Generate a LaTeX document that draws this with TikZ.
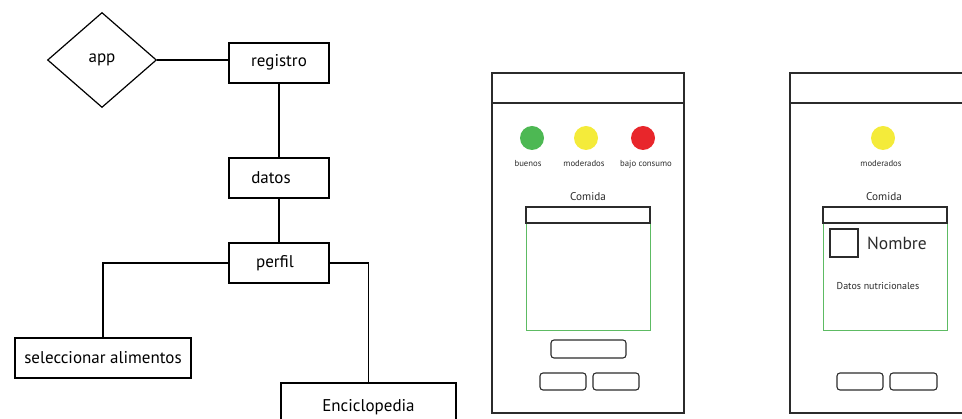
\documentclass[tikz,border=0pt]{standalone}
\usepackage{fontspec}
\setmainfont{PT Sans}
\usetikzlibrary{shapes.geometric}
\definecolor{gok}{HTML}{4DB853}
\definecolor{ymod}{HTML}{F4EB3A}
\definecolor{rbad}{HTML}{E8262B}
\definecolor{gline}{HTML}{5DBB63}
\definecolor{ink}{HTML}{2B2B2B}
\begin{document}
\begin{tikzpicture}[x=1pt,y=-1pt,
  box/.style={draw=black,line width=1.6pt,rectangle,inner sep=0pt,font=\fontsize{17}{19}\selectfont},
  conn/.style={draw=black,line width=1.8pt},
  phone/.style={draw=ink,line width=1.1pt},
  bar/.style={draw=ink,line width=1.4pt},
  btn/.style={draw=ink,line width=1.1pt,rounded corners=3pt},
  small/.style={font=\fontsize{8.7}{9.5}\selectfont,text=ink,inner sep=0pt},
  mid/.style={font=\fontsize{11.2}{12}\selectfont,text=ink,inner sep=0pt}]
\useasboundingbox (0,0) rectangle (962,419);
\clip (0,0) rectangle (962,419);
% ---------- left diagram ----------
\node[draw=black,line width=1.2pt,diamond,minimum width=109pt,minimum height=95pt,inner sep=0pt,font=\fontsize{17}{19}\selectfont] (app) at (102,60) {\raisebox{1pt}{app}};
\node[box,minimum width=100pt,minimum height=40pt] (registro) at (279,63) {\raisebox{5pt}{registro}};
\node[box,minimum width=100pt,minimum height=40pt] (datos) at (279,178) {\hspace*{-16pt}datos};
\node[box,minimum width=100pt,minimum height=40pt] (perfil) at (279,263) {\hspace*{-8pt}perfil};
\node[box,minimum width=176pt,minimum height=40pt] (sel) at (103,358) {seleccionar alimentos};
\node[box,minimum width=175pt,minimum height=48pt] (enc) at (368.5,407) {\raisebox{4pt}{Enciclopedia}};
\draw[conn] (app.east) -- (app.east -| registro.west);
\draw[conn] (registro.south) -- (datos.north);
\draw[conn] (datos.south) -- (perfil.north);
\draw[conn,line width=1.5pt] (perfil.west) -| (sel.north);
\draw[conn,line width=1.5pt] (perfil.east) -| (enc.north);
% ---------- phone 1 ----------
\draw[phone] (492,73) rectangle (684,413);
\draw[phone] (492,103) -- (684,103);
\fill[gok] (532,138) circle (12);
\fill[ymod] (586,138) circle (12);
\fill[rbad] (643,138) circle (12);
\node[small] (l1) at (528,164) {buenos};
\node[small] (l2) at (584,164) {moderados};
\node[small] (l3) at (646,164) {bajo consumo};
\node[mid] (c1) at (588,197) {Comida};
\draw[gline,line width=1pt] (526,223) rectangle (650,331);
\draw[bar] (526,207) rectangle (650,223);
\draw[btn] (551,340) rectangle (626,358);
\draw[btn] (540,373) rectangle (586,390);
\draw[btn] (593,373) rectangle (639,390);
% ---------- phone 2 ----------
\draw[phone] (790,73) rectangle (982,413);
\draw[phone] (790,103) -- (982,103);
\fill[ymod] (883,138) circle (12);
\node[small] (l4) at (881,164) {moderados};
\node[mid] (c2) at (884,197) {Comida};
\draw[gline,line width=1pt] (823,223) rectangle (947,331);
\draw[bar] (823,207) rectangle (947,223);
\draw[phone,line width=1.3pt] (830,229) rectangle (858,257);
\node[font=\fontsize{17.5}{19}\selectfont,text=ink,inner sep=0pt] (nom) at (897,243) {Nombre};
\node[font=\fontsize{10}{11}\selectfont,text=ink,inner sep=0pt] (dn) at (878,286) {Datos nutricionales};
\draw[btn] (837,373) rectangle (883,390);
\draw[btn] (890,373) rectangle (937,390);
\end{tikzpicture}
\end{document}
